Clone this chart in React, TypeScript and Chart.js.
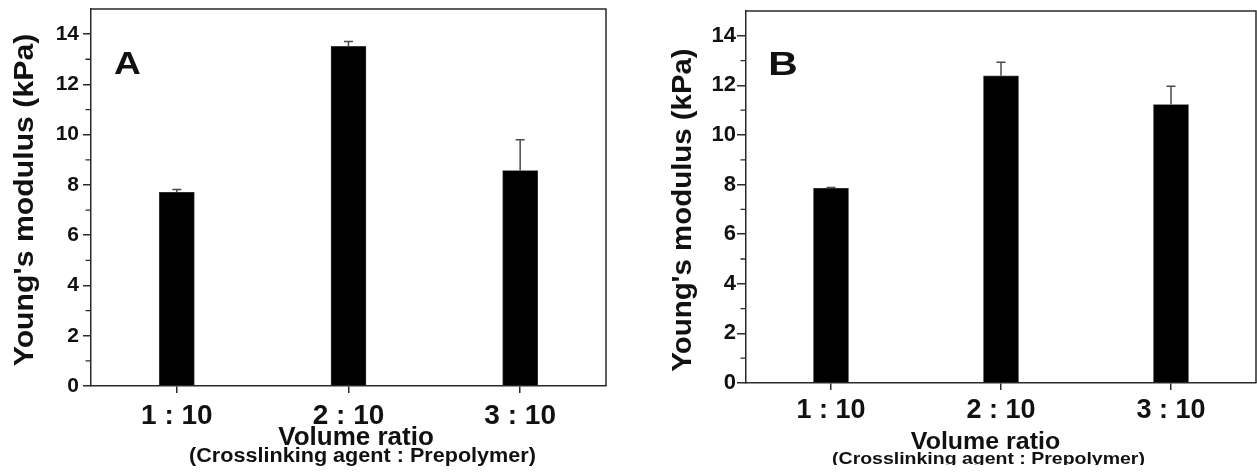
import React, { useEffect, useRef } from "react";
import { Chart, registerables } from "chart.js";

Chart.register(...registerables);

// ---- data ----
const categories = ["1 : 10", "2 : 10", "3 : 10"];
const valuesA = [7.71, 13.51, 8.57];
const errorsA = [0.11, 0.2, 1.23];
const valuesB = [7.85, 12.39, 11.23];
const errorsB = [0.03, 0.54, 0.74];
const yMajorTicks = [0, 2, 4, 6, 8, 10, 12, 14];
const yMinorTicks = [1, 3, 5, 7, 9, 11, 13];
const yMin = 0;
const yMax = 15;
const yTitle = "Young's modulus (kPa)";
const xTitle = "Volume ratio";
const xSubtitle = "(Crosslinking agent : Prepolymer)";

const FONT = '"Liberation Sans", Arial, Helvetica, sans-serif';
const AXIS_COLOR = "#2a2a2a";
const TEXT_COLOR = "#111";

type PanelCfg = {
  letter: string;
  values: number[];
  errors: number[];
  left: number;
  width: number;
  padTop: number;
  padRight: number;
  yAxisW: number;
  xAxisH: number;
  yTickFont: number;
  yTickLen: number;
  yTickPad: number;
  xTickFont: number;
  xTickPad: number;
  letterPos: { x: number; y: number; size: number; sx: number };
  yTitlePos: { x: number; y: number; size: number; sx: number };
  xTitlePos: { x: number; y: number; size: number; sx: number };
  xSubPos: { x: number; y: number; size: number; sx: number; clip?: number };
};

const panels: PanelCfg[] = [
  {
    letter: "A",
    values: valuesA,
    errors: errorsA,
    left: 0,
    width: 620,
    padTop: 9,
    padRight: 14,
    yAxisW: 91,
    xAxisH: 88,
    yTickFont: 21,
    yTickLen: 8,
    yTickPad: 4,
    xTickFont: 28,
    xTickPad: 6,
    letterPos: { x: 127.5, y: 74, size: 31, sx: 1.2 },
    yTitlePos: { x: 33, y: 200, size: 28, sx: 1.08 },
    xTitlePos: { x: 356, y: 445, size: 26, sx: 1.0 },
    xSubPos: { x: 362.5, y: 462, size: 20, sx: 1.08 },
  },
  {
    letter: "B",
    values: valuesB,
    errors: errorsB,
    left: 620,
    width: 637,
    padTop: 11,
    padRight: 1,
    yAxisW: 126,
    xAxisH: 91,
    yTickFont: 22,
    yTickLen: 9,
    yTickPad: 1,
    xTickFont: 27,
    xTickPad: 4,
    letterPos: { x: 783, y: 75, size: 34, sx: 1.2 },
    yTitlePos: { x: 690.5, y: 210, size: 28, sx: 1.05 },
    xTitlePos: { x: 985.5, y: 449.3, size: 24, sx: 1.04 },
    xSubPos: { x: 988.5, y: 464.2, size: 17, sx: 1.146, clip: 465 },
  },
];

function drawText(
  ctx: CanvasRenderingContext2D,
  text: string,
  x: number,
  y: number,
  size: number,
  sx: number,
  rotate = false
) {
  ctx.save();
  ctx.translate(x, y);
  if (rotate) ctx.rotate(-Math.PI / 2);
  ctx.scale(sx, 1);
  ctx.font = `bold ${size}px ${FONT}`;
  ctx.textAlign = "center";
  ctx.textBaseline = "alphabetic";
  ctx.fillStyle = TEXT_COLOR;
  ctx.fillText(text, 0, 0);
  ctx.restore();
}

function makePlugin(cfg: PanelCfg) {
  return {
    id: "panelDecor" + cfg.letter,
    afterDatasetsDraw(chart: any) {
      const ctx: CanvasRenderingContext2D = chart.ctx;
      const yScale = chart.scales.y;
      const meta = chart.getDatasetMeta(0);
      // error bars (upper only)
      ctx.save();
      ctx.strokeStyle = "#4a4a4a";
      ctx.lineWidth = 1.5;
      meta.data.forEach((bar: any, i: number) => {
        const v = cfg.values[i];
        const e = cfg.errors[i];
        const yTop = yScale.getPixelForValue(v + e);
        const yBar = yScale.getPixelForValue(v);
        ctx.beginPath();
        ctx.moveTo(bar.x, yBar);
        ctx.lineTo(bar.x, yTop);
        ctx.moveTo(bar.x - 4.5, yTop);
        ctx.lineTo(bar.x + 4.5, yTop);
        ctx.stroke();
      });
      ctx.restore();
    },
    afterDraw(chart: any) {
      const ctx: CanvasRenderingContext2D = chart.ctx;
      const area = chart.chartArea;
      const yScale = chart.scales.y;
      // frame: top and right borders
      ctx.save();
      ctx.strokeStyle = AXIS_COLOR;
      ctx.lineWidth = 1.5;
      ctx.beginPath();
      ctx.moveTo(area.left, area.top);
      ctx.lineTo(area.right, area.top);
      ctx.lineTo(area.right, area.bottom);
      ctx.stroke();
      // minor ticks
      ctx.lineWidth = 1.3;
      ctx.beginPath();
      yMinorTicks.forEach((v) => {
        const y = yScale.getPixelForValue(v);
        ctx.moveTo(area.left - 5.5, y);
        ctx.lineTo(area.left, y);
      });
      ctx.stroke();
      ctx.restore();

      const off = cfg.left;
      drawText(ctx, cfg.letter, cfg.letterPos.x - off, cfg.letterPos.y, cfg.letterPos.size, cfg.letterPos.sx);
      drawText(ctx, yTitle, cfg.yTitlePos.x - off, cfg.yTitlePos.y, cfg.yTitlePos.size, cfg.yTitlePos.sx, true);
      drawText(ctx, xTitle, cfg.xTitlePos.x - off, cfg.xTitlePos.y, cfg.xTitlePos.size, cfg.xTitlePos.sx);
      ctx.save();
      if (cfg.xSubPos.clip) {
        ctx.beginPath();
        ctx.rect(0, 0, chart.width, cfg.xSubPos.clip);
        ctx.clip();
      }
      drawText(ctx, xSubtitle, cfg.xSubPos.x - off, cfg.xSubPos.y, cfg.xSubPos.size, cfg.xSubPos.sx);
      ctx.restore();
    },
  };
}

function Panel({ cfg }: { cfg: PanelCfg }) {
  const ref = useRef<HTMLCanvasElement>(null);
  useEffect(() => {
    const canvas = ref.current;
    if (!canvas) return;
    const chart = new Chart(canvas, {
      type: "bar",
      data: {
        labels: categories,
        datasets: [
          {
            data: cfg.values,
            backgroundColor: "#000",
            borderColor: "#3a3a3a",
            borderWidth: 0.8,
            barThickness: 35,
          },
        ],
      },
      options: {
        animation: false,
        responsive: false,
        devicePixelRatio: 1,
        layout: { padding: { top: cfg.padTop, right: cfg.padRight, left: 0, bottom: 0 } },
        plugins: {
          legend: { display: false },
          tooltip: { enabled: false },
          title: { display: false },
        },
        scales: {
          x: {
            type: "category",
            offset: true,
            grid: {
              drawOnChartArea: false,
              offset: false,
              tickLength: 7,
              color: AXIS_COLOR,
              lineWidth: 1.5,
            },
            border: { color: AXIS_COLOR, width: 1.5 },
            ticks: {
              color: TEXT_COLOR,
              font: { family: FONT, size: cfg.xTickFont, weight: "bold" },
              padding: cfg.xTickPad,
              maxRotation: 0,
              autoSkip: false,
            },
            afterFit: (s: any) => {
              s.height = cfg.xAxisH;
              s.paddingLeft = 0;
              s.paddingRight = 0;
            },
          } as any,
          y: {
            type: "linear",
            min: yMin,
            max: yMax,
            afterBuildTicks: (s: any) => {
              s.ticks = yMajorTicks.map((v) => ({ value: v }));
            },
            grid: {
              drawOnChartArea: false,
              tickLength: cfg.yTickLen,
              color: AXIS_COLOR,
              lineWidth: 1.5,
            },
            border: { color: AXIS_COLOR, width: 1.5 },
            ticks: {
              color: TEXT_COLOR,
              font: { family: FONT, size: cfg.yTickFont, weight: "bold" },
              padding: cfg.yTickPad,
              callback: (v: any) => String(v),
            },
            afterFit: (s: any) => {
              s.width = cfg.yAxisW;
              s.paddingTop = 0;
              s.paddingBottom = 0;
            },
          } as any,
        },
      },
      plugins: [makePlugin(cfg)],
    });
    return () => chart.destroy();
  }, [cfg]);
  return (
    <canvas
      ref={ref}
      width={cfg.width}
      height={474}
      style={{ position: "absolute", left: cfg.left, top: 0, width: cfg.width, height: 474 }}
    />
  );
}

export default function App() {
  return (
    <div
      style={{
        position: "absolute",
        left: 0,
        top: 0,
        width: 1257,
        height: 474,
        background: "#fff",
        overflow: "hidden",
      }}
    >
      {panels.map((p) => (
        <Panel key={p.letter} cfg={p} />
      ))}
    </div>
  );
}
